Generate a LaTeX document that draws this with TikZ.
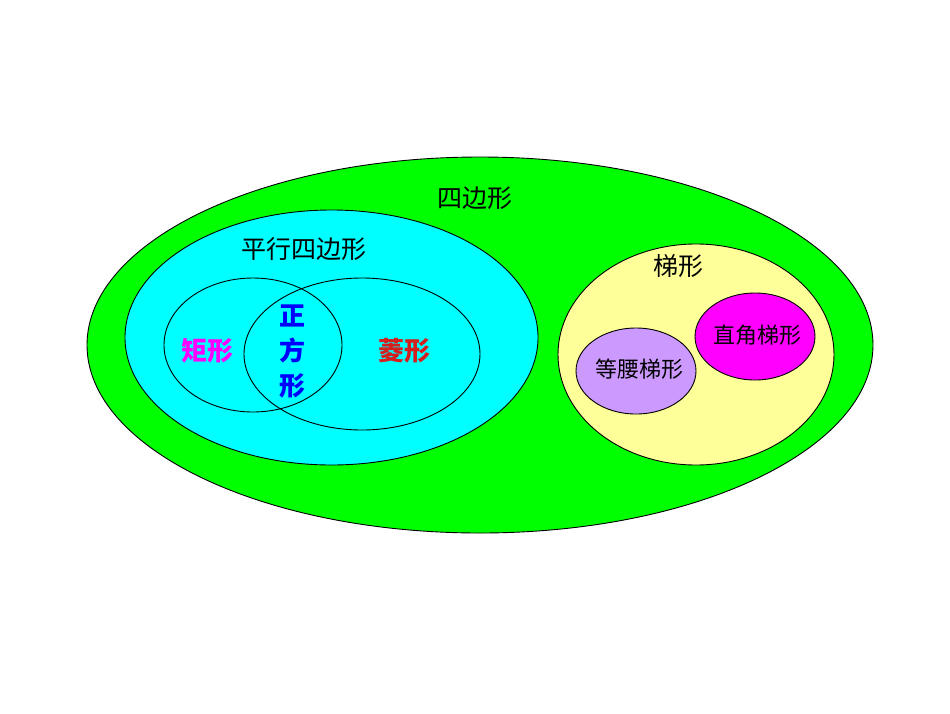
\documentclass[tikz,border=0pt]{standalone}
\usepackage{fontspec}
\usepackage{tikz}
\newfontfamily\cjk{Noto Sans CJK SC}
\definecolor{mgreen}{rgb}{0, 1, 0}
\definecolor{mcyan}{rgb}{0, 1, 1}
\definecolor{myellow}{rgb}{1, 1, 0.6}
\definecolor{mpurple}{rgb}{0.8, 0.6, 1}
\definecolor{mmagenta}{rgb}{1, 0, 1}
\definecolor{mred}{rgb}{0.83, 0.12, 0.12}
\definecolor{mblue}{rgb}{0, 0, 1}
\tikzset{
  setline/.style={draw=black, line width=0.9pt},
  biglabel/.style={font=\cjk\fontsize{25}{30}\selectfont, inner sep=0pt},
  smalllabel/.style={font=\cjk\fontsize{22}{26}\selectfont, inner sep=0pt},
  boldlabel/.style={font=\cjk\bfseries\fontsize{26}{35}\selectfont, inner sep=0pt, align=center}
}

\begin{document}
\begin{tikzpicture}[x=1pt, y=-1pt]
      \fill [white] (0, 0) rectangle (950, 713);
      \useasboundingbox (0, 0) rectangle (950, 713);

      % quadrilaterals
      \draw [setline, fill=mgreen] (480, 345) ellipse [x radius=393pt, y radius=188pt];
      \node [biglabel] (quad) at (475, 198) {四边形};

      % parallelograms
      \draw [setline, fill=mcyan] (331.5, 337.5) ellipse [x radius=206.5pt, y radius=127.5pt];
      \node [biglabel] (para) at (304, 249) {平行四边形};
      \draw [setline] (253, 345) ellipse [x radius=89pt, y radius=67pt];
      \draw [setline] (362, 354) ellipse [x radius=118pt, y radius=76pt];
      \node [boldlabel, mmagenta] (rect) at (207, 351) {矩形};
      \node [boldlabel, mred] (rhomb) at (404, 351) {菱形};
      \node [boldlabel, mblue] (square) at (292, 352) {正\\方\\形};

      % trapezoids
      \draw [setline, fill=myellow] (696, 354.5) ellipse [x radius=138pt, y radius=110.5pt];
      \node [biglabel] (trap) at (678, 266) {梯形};
      \draw [setline, fill=mpurple] (636, 371) ellipse [x radius=60pt, y radius=43pt];
      \node [smalllabel] (iso) at (639, 369) {等腰梯形};
      \draw [setline, fill=mmagenta] (755, 336.5) ellipse [x radius=60pt, y radius=43.5pt];
      \node [smalllabel] (right) at (757, 335) {直角梯形};
\end{tikzpicture}
\end{document}
